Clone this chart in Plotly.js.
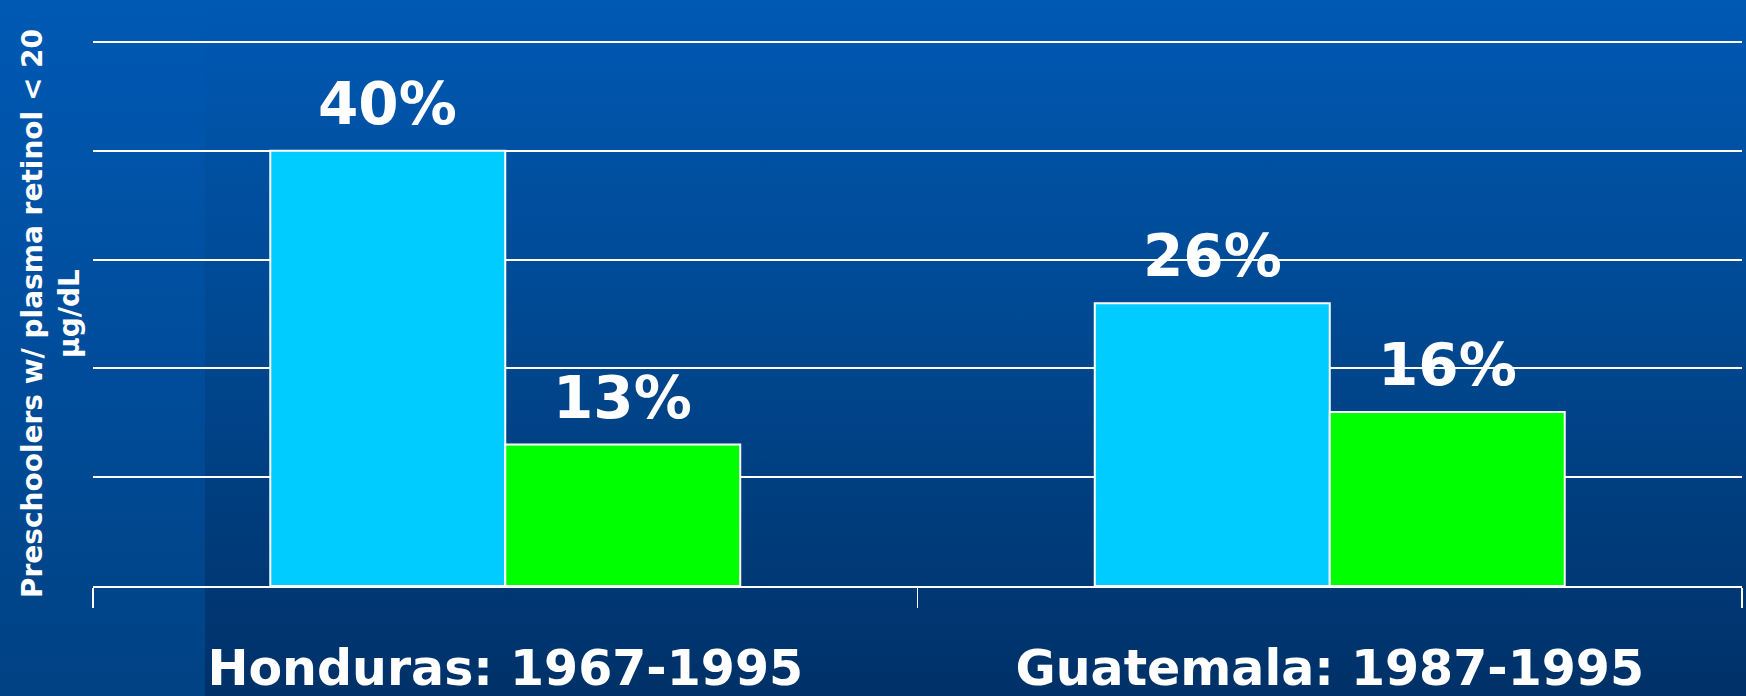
<!DOCTYPE html>
<html>
<head>
<meta charset="utf-8">
<script src="https://cdn.plot.ly/plotly-3.0.1.min.js"></script>
<style>
  html, body { margin: 0; padding: 0; width: 1746px; height: 696px; overflow: hidden; }
  #bg { position: absolute; left: 0; top: 0; width: 1746px; height: 696px;
        background: linear-gradient(to bottom, #0059b3 0%, #00478f 50%, #003168 100%); }
  #strip { position: absolute; left: 0; top: 0; width: 205px; height: 696px;
        background: linear-gradient(to bottom, #0059b3 0%, #004d9c 50%, #004283 100%); }
  #chart { position: absolute; left: 0; top: 0; width: 1746px; height: 696px; }
</style>
</head>
<body>
<div id="bg"></div>
<div id="strip"></div>
<div id="chart"></div>
<script>
const categories = ["Honduras: 1967-1995", "Guatemala: 1987-1995"];
const earlierValues = [40, 26];
const laterValues = [13, 16];
const earlierLabels = ["40%", "26%"];
const laterLabels = ["13%", "16%"];
const yTitle = "Preschoolers w/ plasma retinol < 20<br>µg/dL";

const FONT = "DejaVu Sans, Verdana, sans-serif";

const traces = [
  {
    type: "bar", name: "Earlier survey", x: categories, y: earlierValues,
    marker: { color: "#00ccff", line: { color: "#ffffff", width: 2 } },
    hoverinfo: "skip"
  },
  {
    type: "bar", name: "1995", x: categories, y: laterValues,
    marker: { color: "#00ff00", line: { color: "#ffffff", width: 2 } },
    hoverinfo: "skip"
  }
];

const barHalf = 117.5;
const annotations = [];
categories.forEach((c, i) => {
  annotations.push({ x: c, y: earlierValues[i], xref: "x", yref: "y", text: earlierLabels[i],
    showarrow: false, xshift: -barHalf, yshift: 47, yanchor: "middle",
    font: { family: FONT, size: 58, color: "#ffffff", weight: "bold" } });
  annotations.push({ x: c, y: laterValues[i], xref: "x", yref: "y", text: laterLabels[i],
    showarrow: false, xshift: barHalf, yshift: 47, yanchor: "middle",
    font: { family: FONT, size: 58, color: "#ffffff", weight: "bold" } });
});

const layout = {
  width: 1746, height: 696,
  paper_bgcolor: "rgba(0,0,0,0)", plot_bgcolor: "rgba(0,0,0,0)",
  margin: { l: 93, r: 4, t: 41, b: 110 },
  barmode: "group", bargap: 0.43, bargroupgap: 0,
  showlegend: false,
  font: { family: FONT, color: "#ffffff" },
  xaxis: {
    type: "category",
    showline: true, linecolor: "#ffffff", linewidth: 2,
    ticks: "outside", tickson: "boundaries", ticklen: 20, tickwidth: 1.5, tickcolor: "#ffffff",
    ticklabelstandoff: 38,
    tickfont: { family: FONT, size: 49, color: "#ffffff", weight: "bold" },
    showgrid: false, zeroline: false, automargin: false
  },
  yaxis: {
    range: [0, 50.1], tickvals: [10, 20, 30, 40, 50],
    showgrid: true, gridcolor: "#ffffff", gridwidth: 2,
    showticklabels: false, ticks: "", zeroline: false, showline: false,
    automargin: false,
    title: { text: yTitle, standoff: 4,
      font: { family: FONT, size: 28, color: "#ffffff", weight: "bold" } }
  },
  annotations: annotations
};

Plotly.newPlot("chart", traces, layout, { staticPlot: true, displayModeBar: false });
</script>
</body>
</html>
